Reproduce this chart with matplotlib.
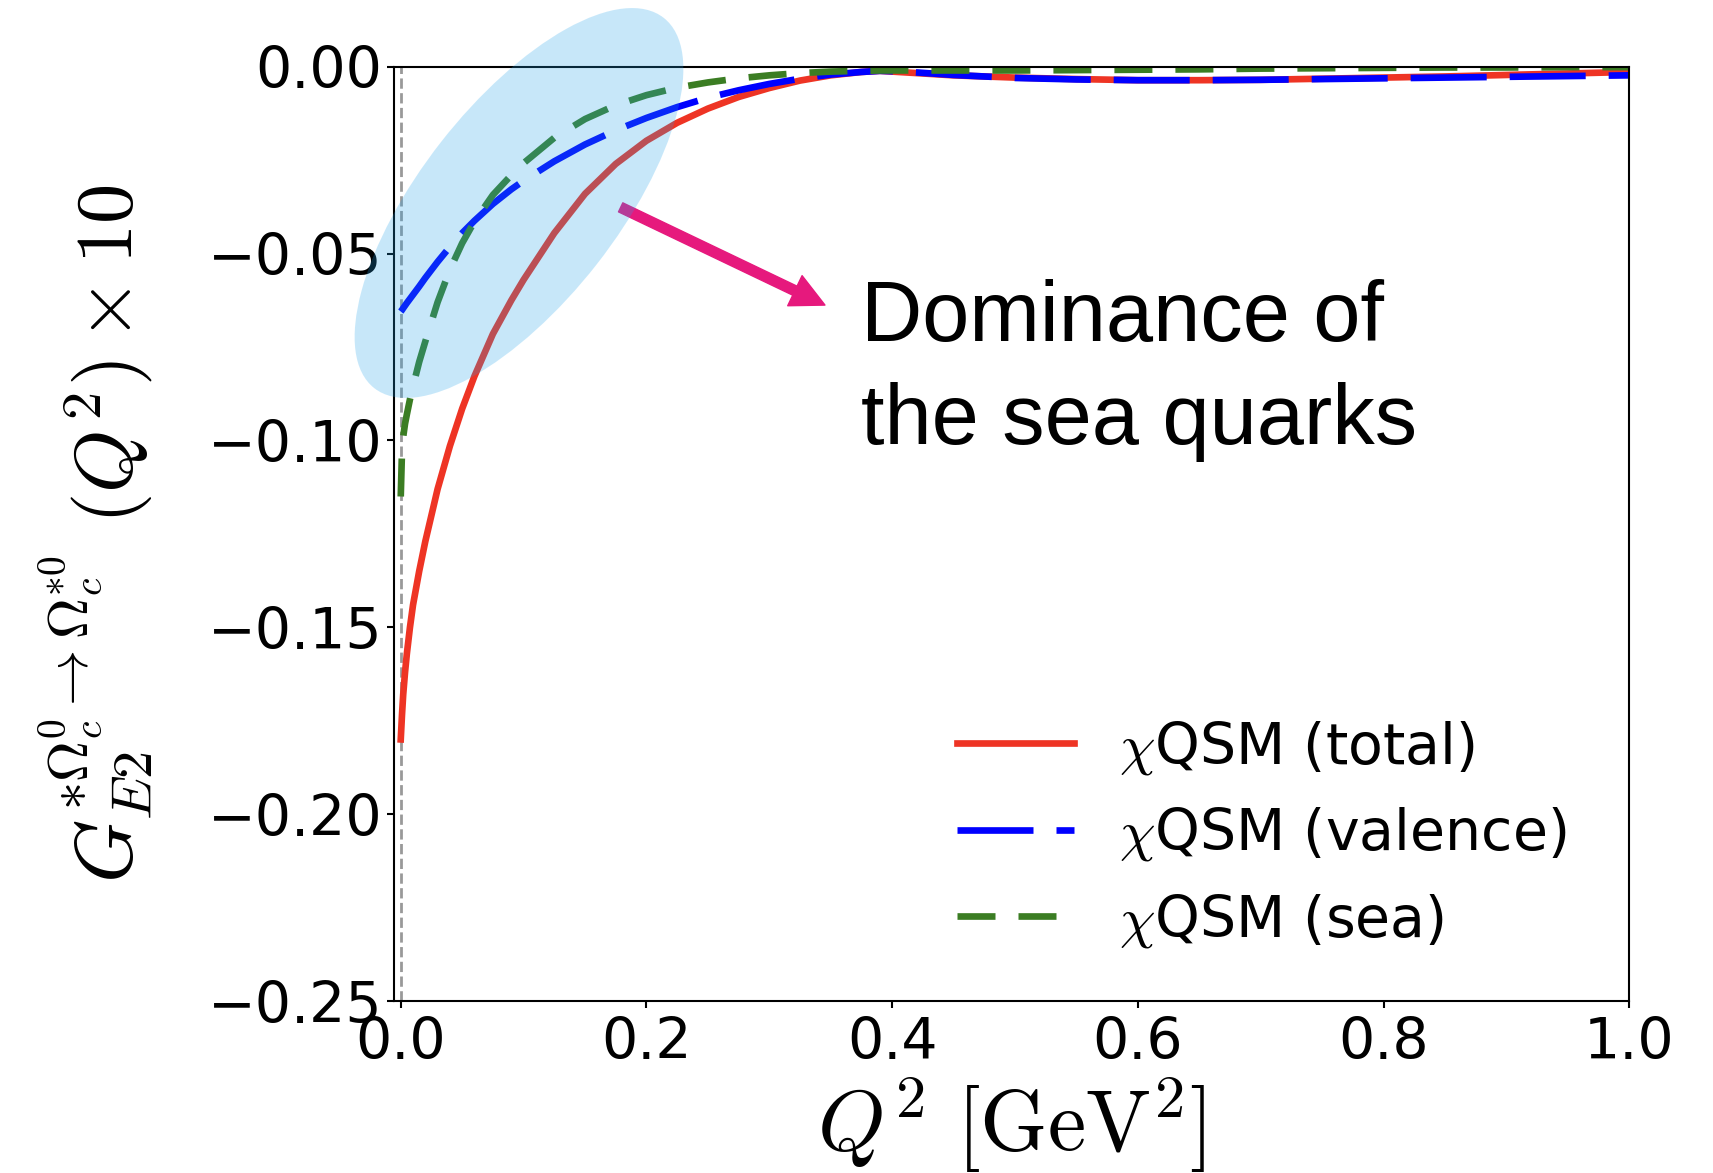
import numpy as np
import matplotlib
matplotlib.use("Agg")
import matplotlib.pyplot as plt
from matplotlib.patches import Ellipse

plt.rcParams['mathtext.fontset'] = 'cm'
plt.rcParams['font.family'] = ['DejaVu Sans']

# Q^2 in GeV^2
q2 = [0, 0.001, 0.002, 0.0035, 0.005, 0.0075, 0.01, 0.015, 0.02, 0.03, 0.04, 0.05,
      0.06, 0.075, 0.09, 0.1, 0.125, 0.15, 0.175, 0.2, 0.225, 0.25, 0.275, 0.3,
      0.325, 0.35, 0.375, 0.39, 0.41, 0.45, 0.5, 0.55, 0.6, 0.65, 0.7, 0.75, 0.8,
      0.85, 0.9, 0.95, 1.0]

# form factor x 10
total = [-0.180, -0.1735, -0.168, -0.162, -0.157, -0.150, -0.144, -0.135, -0.127,
         -0.113, -0.1015, -0.0915, -0.0828, -0.0715, -0.0625, -0.0570, -0.0445,
         -0.0340, -0.0260, -0.0198, -0.0150, -0.0112, -0.0081, -0.0057, -0.0037,
         -0.0023, -0.0014, -0.0011, -0.0015, -0.0023, -0.0029, -0.0033, -0.0036,
         -0.0036, -0.0035, -0.0032, -0.0029, -0.0026, -0.0022, -0.0018, -0.0014]
valence = [-0.0655, -0.0651, -0.0646, -0.0639, -0.0632, -0.0621, -0.0610, -0.0588,
           -0.0565, -0.0522, -0.0482, -0.0445, -0.0412, -0.0367, -0.0328, -0.0305,
           -0.0253, -0.0208, -0.0170, -0.0137, -0.0108, -0.0083, -0.0063, -0.0046,
           -0.0032, -0.0021, -0.0014, -0.0011, -0.0013, -0.0022, -0.0030, -0.0034,
           -0.0036, -0.0036, -0.0035, -0.0033, -0.0031, -0.0029, -0.0027, -0.0025,
           -0.0023]
sea = [-0.115, -0.103, -0.099, -0.0955, -0.093, -0.089, -0.0855, -0.079, -0.0735,
       -0.0630, -0.0543, -0.0472, -0.0414, -0.0343, -0.0290, -0.0258, -0.0190,
       -0.0140, -0.0103, -0.0076, -0.0056, -0.0042, -0.0031, -0.0023, -0.0017,
       -0.0013, -0.0011, -0.0010, -0.0010, -0.0010, -0.0010, -0.0009, -0.0008,
       -0.0007, -0.0005, -0.0004, -0.0003, -0.0002, -0.0002, -0.0001, -0.0001]

labels = [r'$\chi$QSM (total)', r'$\chi$QSM (valence)', r'$\chi$QSM (sea)']
xticks = [0.0, 0.2, 0.4, 0.6, 0.8, 1.0]
yticks = [-0.25, -0.20, -0.15, -0.10, -0.05, 0.00]

fig = plt.figure(figsize=(17.13, 11.73), dpi=100)
ax = fig.add_axes([0.230, 0.1466, 0.7211, 0.7965])

ax.axvline(0, color='gray', ls='--', lw=2, alpha=0.8, zorder=1)
ax.plot(q2, total, color='#EE3424', lw=4.8, label=labels[0])
ax.plot(q2, valence, color='#0000FF', lw=4.8, dashes=(11.4, 3.45), label=labels[1])
ax.plot(q2, sea, color='#3B7D23', lw=4.8, dashes=(5.7, 3.45), label=labels[2])

ax.set_xlim(-0.0055, 1.0)
ax.set_ylim(-0.25, 0.0)
ax.set_xticks(xticks)
ax.set_yticks(yticks)
ax.tick_params(labelsize=41, length=5, width=1.5)
ax.tick_params(axis='x', pad=5.5)
for s in ax.spines.values():
    s.set_linewidth(1.5)

ax.set_xlabel(r'$Q^2\ [\mathrm{GeV}^2]$', fontsize=62)
ax.xaxis.set_label_coords(0.5, -0.080)
ax.set_ylabel(r'$G^{*\Omega_c^0\to\Omega_c^{*0}}_{E2}\ (Q^2)\times 10$', fontsize=58)
ax.yaxis.set_label_coords(-0.193, 0.5)

ax.legend(loc='lower right', bbox_to_anchor=(0.991, 0.0), frameon=False,
          fontsize=41, handlelength=2.05, handletextpad=0.8)

# highlight of the sea-quark region
ell = Ellipse((5.19, 9.70), 4.70, 1.98, angle=52, transform=fig.dpi_scale_trans,
              facecolor='#23A3EB', edgecolor='none', alpha=0.25, zorder=5,
              clip_on=False)
ax.add_patch(ell)

ax.annotate('', xy=(0.3489, 0.7449), xytext=(0.1835, 0.8495),
            xycoords='axes fraction', textcoords='axes fraction',
            arrowprops=dict(arrowstyle='simple,head_length=1.0,head_width=1.0,tail_width=0.3',
                            mutation_scale=24, color='#E6197D', shrinkA=0, shrinkB=0))
ax.text(0.378, 0.7732, 'Dominance of\nthe sea quarks', transform=ax.transAxes,
        fontsize=61, family='Liberation Sans', va='top', ha='left', linespacing=1.37)

fig.savefig('out.png', dpi=100)
